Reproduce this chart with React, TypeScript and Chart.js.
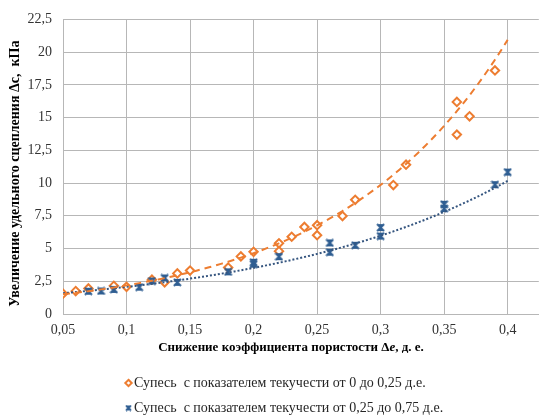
import { useEffect, useRef } from "react";
import { Chart, registerables } from "chart.js";

Chart.register(...registerables);

const FONT = '"Liberation Serif", "Times New Roman", serif';
const ORANGE = "#ED7D31";
const BLUE = "#2F5E92";
const GRID = "#b7b7b7";
const TEXT = "#333333";

Chart.defaults.font.family = FONT;
Chart.defaults.font.size = 14;
Chart.defaults.color = TEXT;

// Супесь, IL 0…0,25
const lowFluidityX = [0.05, 0.06, 0.07, 0.09, 0.1, 0.12, 0.13, 0.14, 0.15, 0.18, 0.19, 0.2, 0.22, 0.22, 0.23, 0.24, 0.25, 0.25, 0.27, 0.28, 0.31, 0.32, 0.36, 0.36, 0.37, 0.39];
const lowFluidityY = [1.55, 1.75, 1.95, 2.15, 2.08, 2.62, 2.42, 3.1, 3.32, 3.55, 4.4, 4.75, 5.4, 4.8, 5.9, 6.65, 6.78, 6.02, 7.48, 8.72, 9.85, 11.4, 16.2, 13.7, 15.1, 18.6];

// Супесь, IL 0,25…0,75
const highFluidityX = [0.07, 0.08, 0.09, 0.11, 0.12, 0.13, 0.14, 0.18, 0.2, 0.2, 0.22, 0.26, 0.26, 0.28, 0.3, 0.3, 0.35, 0.35, 0.39, 0.4];
const highFluidityY = [1.74, 1.76, 1.88, 2.05, 2.52, 2.75, 2.42, 3.22, 3.95, 3.8, 4.38, 5.43, 4.72, 5.25, 6.6, 5.95, 8.38, 8.05, 9.88, 10.84];

// Exponential trendlines y = a·e^(b·x): [a, b]
const lowFluidityTrend = [1.03, 7.53];
const highFluidityTrend = [1.22, 5.3];

const seriesLabels = [
  "Супесь  с показателем текучести от 0 до 0,25 д.е.",
  "Супесь  с показателем текучести от 0,25 до 0,75 д.е.",
];
const xTitleParts = ["Снижение коэффициента пористости Δ", "e", ", д. е."];
const yTitle = "Увеличение удельного сцепления Δс,  кПа";

const xMin = 0.05;
const xMax = 0.4245;
const xStep = 0.05;
const yMin = 0;
const yMax = 22.5;
const yStep = 2.5;
const trendFrom = 0.05;
const trendTo = 0.4;
const trendSamples = 70;

function trendPoints([a, b]: number[]) {
  const pts: { x: number; y: number }[] = [];
  for (let i = 0; i <= trendSamples; i++) {
    const x = trendFrom + ((trendTo - trendFrom) * i) / trendSamples;
    pts.push({ x, y: a * Math.exp(b * x) });
  }
  return pts;
}

function zip(xs: number[], ys: number[]) {
  return xs.map((x, i) => ({ x, y: ys[i] }));
}

const fmt = (v: number) => String(Math.round(v * 100) / 100).replace(".", ",");

function makeStarMarker(size: number, color: string) {
  const c = document.createElement("canvas");
  c.width = size;
  c.height = size;
  const g = c.getContext("2d")!;
  const p = 1;
  const q = size - 1;
  const m = size / 2;
  g.fillStyle = color;
  g.beginPath();
  g.moveTo(p, p);
  g.lineTo(q, p);
  g.lineTo(m, m);
  g.closePath();
  g.fill();
  g.beginPath();
  g.moveTo(p, q);
  g.lineTo(q, q);
  g.lineTo(m, m);
  g.closePath();
  g.fill();
  g.strokeStyle = color;
  g.lineWidth = 2;
  g.beginPath();
  g.moveTo(p, p);
  g.lineTo(q, q);
  g.moveTo(q, p);
  g.lineTo(p, q);
  g.moveTo(m, p);
  g.lineTo(m, q);
  g.stroke();
  return c;
}

function drawDiamond(ctx: CanvasRenderingContext2D, x: number, y: number, r: number) {
  ctx.save();
  ctx.beginPath();
  ctx.moveTo(x, y - r);
  ctx.lineTo(x + r, y);
  ctx.lineTo(x, y + r);
  ctx.lineTo(x - r, y);
  ctx.closePath();
  ctx.fillStyle = "#fff";
  ctx.fill();
  ctx.strokeStyle = ORANGE;
  ctx.lineWidth = 2;
  ctx.stroke();
  ctx.restore();
}

export default function App() {
  const ref = useRef<HTMLCanvasElement | null>(null);

  useEffect(() => {
    if (!ref.current) return;
    const starMarker = makeStarMarker(9, BLUE);
    const starLegend = makeStarMarker(7, BLUE);

    const annotations = {
      id: "annotations",
      afterDraw(c: any) {
        const { ctx, chartArea } = c;
        ctx.save();
        ctx.fillStyle = "#000";
        ctx.textBaseline = "middle";

        // Y axis title
        ctx.save();
        ctx.translate(15, (chartArea.top + chartArea.bottom) / 2 + 7);
        ctx.rotate(-Math.PI / 2);
        ctx.font = `bold 14px ${FONT}`;
        ctx.textAlign = "center";
        ctx.fillText(yTitle, 0, 0);
        ctx.restore();

        // X axis title with italic variable
        const fonts = [`bold 13px ${FONT}`, `italic bold 13px ${FONT}`, `bold 13px ${FONT}`];
        const widths = xTitleParts.map((t, i) => {
          ctx.font = fonts[i];
          return ctx.measureText(t).width;
        });
        const total = widths.reduce((s, w) => s + w, 0);
        let x = 291 - total / 2;
        ctx.textAlign = "left";
        xTitleParts.forEach((t, i) => {
          ctx.font = fonts[i];
          ctx.fillText(t, x, 348);
          x += widths[i];
        });

        // Legend
        ctx.font = `14px ${FONT}`;
        ctx.fillStyle = "#262626";
        drawDiamond(ctx, 128.5, 383, 3.2);
        ctx.fillText(seriesLabels[0], 134, 383);
        ctx.drawImage(starLegend, 125, 404.5);
        ctx.fillText(seriesLabels[1], 134, 408);
        ctx.restore();
      },
    };

    const chart = new Chart(ref.current, {
      type: "scatter",
      data: {
        datasets: [
          {
            label: seriesLabels[0] + " (тренд)",
            type: "line",
            data: trendPoints(lowFluidityTrend),
            borderColor: ORANGE,
            borderWidth: 2,
            borderDash: [7, 5],
            pointRadius: 0,
            fill: false,
            order: 1,
          },
          {
            label: seriesLabels[1] + " (тренд)",
            type: "line",
            data: trendPoints(highFluidityTrend),
            borderColor: "#35557F",
            borderWidth: 2,
            borderDash: [2, 2],
            pointRadius: 0,
            fill: false,
            order: 2,
          },
          {
            label: seriesLabels[1],
            data: zip(highFluidityX, highFluidityY),
            pointStyle: starMarker,
            pointRadius: 4.5,
            order: 3,
          },
          {
            label: seriesLabels[0],
            data: zip(lowFluidityX, lowFluidityY),
            pointStyle: "rectRot",
            pointRadius: 4.2,
            borderColor: ORANGE,
            backgroundColor: "#ffffff",
            borderWidth: 2,
            order: 4,
          },
        ],
      },
      options: {
        responsive: false,
        animation: false,
        layout: { padding: { top: 18, right: 5, left: 0, bottom: 0 } },
        plugins: {
          legend: { display: false },
          tooltip: { enabled: false },
          title: { display: false },
        },
        scales: {
          x: {
            type: "linear",
            min: xMin,
            max: xMax,
            afterFit: (s: any) => {
              s.height = 104;
            },
            grid: { color: GRID, drawTicks: false },
            border: { color: GRID },
            ticks: {
              stepSize: xStep,
              includeBounds: false,
              padding: 8,
              color: TEXT,
              font: { family: FONT, size: 14 },
              callback: (v: any) => fmt(Number(v)),
              maxRotation: 0,
            },
          },
          y: {
            type: "linear",
            min: yMin,
            max: yMax,
            afterFit: (s: any) => {
              s.width = 63;
            },
            grid: { color: GRID, drawTicks: false },
            border: { color: GRID },
            ticks: {
              stepSize: yStep,
              padding: 11,
              color: TEXT,
              font: { family: FONT, size: 14 },
              callback: (v: any) => fmt(Number(v)),
            },
          },
        },
      },
      plugins: [annotations],
    } as any);

    return () => chart.destroy();
  }, []);

  return (
    <div style={{ position: "absolute", left: 0, top: 0, width: 545, height: 418, background: "#fff" }}>
      <canvas ref={ref} width={545} height={418} style={{ width: 545, height: 418 }} />
    </div>
  );
}
